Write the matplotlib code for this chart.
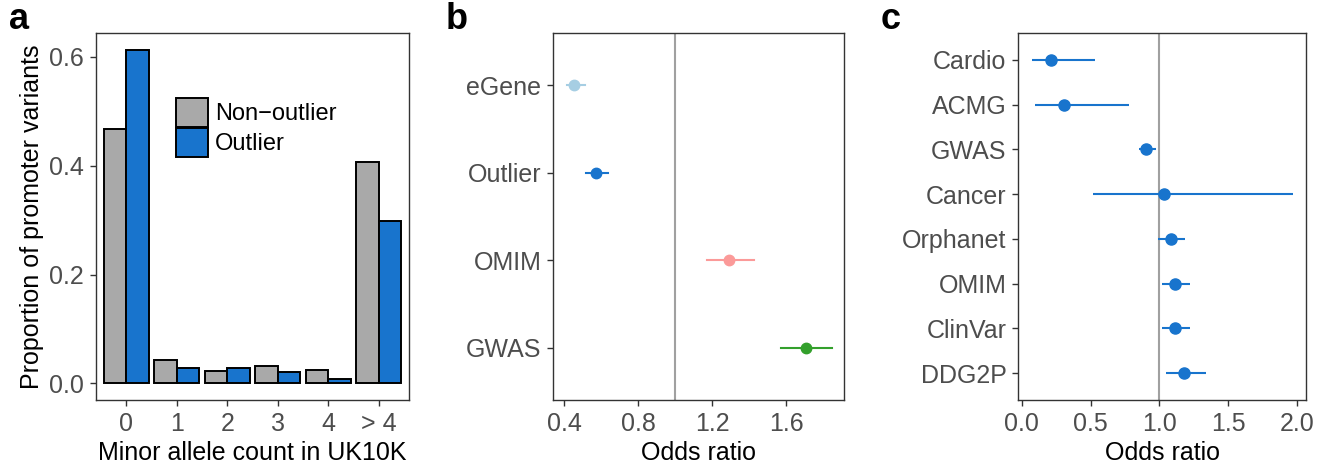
import matplotlib.pyplot as plt
import numpy as np

plt.rcParams['font.family'] = ['Liberation Sans', 'DejaVu Sans']

# panel a data
mac_labels = ["0", "1", "2", "3", "4", "> 4"]
non_outlier = [0.468, 0.042, 0.0225, 0.032, 0.025, 0.406]
outlier = [0.613, 0.028, 0.028, 0.021, 0.007, 0.299]

# panel b data
b_labels = ["eGene", "Outlier", "OMIM", "GWAS"]
b_or = [0.454, 0.570, 1.290, 1.705]
b_lo = [0.413, 0.516, 1.173, 1.573]
b_hi = [0.512, 0.638, 1.425, 1.845]
b_colors = ["#a6cee3", "#1874cd", "#fb9a99", "#33a02c"]

# panel c data
c_labels = ["Cardio", "ACMG", "GWAS", "Cancer", "Orphanet", "OMIM", "ClinVar", "DDG2P"]
c_or = [0.212, 0.307, 0.906, 1.033, 1.082, 1.111, 1.113, 1.176]
c_lo = [0.072, 0.096, 0.852, 0.519, 0.993, 1.022, 1.022, 1.048]
c_hi = [0.531, 0.780, 0.973, 1.968, 1.186, 1.220, 1.222, 1.336]

blue = "#1874cd"
grey = "#a9a9a9"
tick_col = "#4d4d4d"
fs = 18

W, H = 1332, 468
fig = plt.figure(figsize=(W / 100, H / 100), dpi=100)


def px_axes(l, r, t, b):
    return fig.add_axes([l / W, 1 - b / H, (r - l) / W, (b - t) / H])


def style(ax):
    for s in ax.spines.values():
        s.set_color("#333333")
        s.set_linewidth(1.0)
    ax.tick_params(colors="#333333", labelcolor=tick_col, labelsize=fs, length=4.5, width=1.0, pad=4)


# ---- a ----
ax = px_axes(96, 409, 33, 400)
x = np.arange(len(mac_labels))
w = 0.45
ax.bar(x - w / 2, non_outlier, w, color=grey, edgecolor="black", linewidth=1.4, label="Non\u2212outlier")
ax.bar(x + w / 2, outlier, w, color=blue, edgecolor="black", linewidth=1.4, label="Outlier")
ax.set_xlim(-0.6, 5.6)
ax.set_ylim(-0.0307, 0.644)
ax.set_xticks(x)
ax.set_xticklabels(mac_labels)
ax.set_yticks([0.0, 0.2, 0.4, 0.6])
ax.set_xlabel("Minor allele count in UK10K", fontsize=fs)
ax.set_ylabel("Proportion of promoter variants", fontsize=fs)
style(ax)
ax.legend(loc="upper left", bbox_to_anchor=(0.218, 0.855), frameon=False, fontsize=17,
          handlelength=1.35, handleheight=1.5, handletextpad=0.3, labelspacing=0.05, borderpad=0)
fig.text(9 / W, 1 - 29 / H, "a", fontsize=26, fontweight="bold")

# ---- b ----
ax = px_axes(553.3, 844.3, 33, 400)
yb = np.arange(len(b_labels))
ax.axvline(1.0, color="#a0a0a0", linewidth=1.5, zorder=0)
for i in range(len(b_labels)):
    ax.plot([b_lo[i], b_hi[i]], [yb[i], yb[i]], color=b_colors[i], linewidth=1.5)
    ax.plot(b_or[i], yb[i], "o", color=b_colors[i], markersize=7.5)
ax.set_yticks(yb)
ax.set_yticklabels(b_labels)
ax.set_ylim(len(b_labels) - 0.4, -0.6)
ax.set_xlim(0.3405, 1.913)
ax.set_xticks([0.4, 0.8, 1.2, 1.6])
ax.set_xlabel("Odds ratio", fontsize=fs)
style(ax)
fig.text(446 / W, 1 - 29 / H, "b", fontsize=26, fontweight="bold")

# ---- c ----
ax = px_axes(1018.3, 1306, 33, 400)
yc = np.arange(len(c_labels))
ax.axvline(1.0, color="#a0a0a0", linewidth=1.5, zorder=0)
ax.hlines(yc, c_lo, c_hi, color=blue, linewidth=1.5)
ax.plot(c_or, yc, "o", color=blue, markersize=8)
ax.set_yticks(yc)
ax.set_yticklabels(c_labels)
ax.set_ylim(len(c_labels) - 0.4, -0.6)
ax.set_xlim(-0.025, 2.065)
ax.set_xticks([0.0, 0.5, 1.0, 1.5, 2.0])
ax.set_xlabel("Odds ratio", fontsize=fs)
style(ax)
fig.text(881 / W, 1 - 29 / H, "c", fontsize=26, fontweight="bold")

fig.savefig("out.png", dpi=100)
